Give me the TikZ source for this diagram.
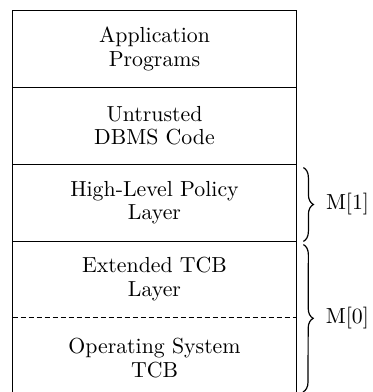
\documentclass[tikz,border=0pt]{standalone}
\usetikzlibrary{positioning, decorations.pathreplacing}
\tikzset{
  layer/.style={rectangle, minimum width=141.5pt, minimum height=38.5pt,
                inner sep=0pt, align=center,
                font=\fontsize{10.9}{11.8}\selectfont},
  frame/.style={line width=0.7pt},
  sepline/.style={line width=0.7pt},
  level/.style={decorate, decoration={brace, amplitude=5pt}, line width=0.6pt},
  levellabel/.style={anchor=west, inner sep=0pt, xshift=11pt,
                     font=\fontsize{10.9}{11.8}\selectfont},
}
\begin{document}
\begin{tikzpicture}[x=0.5pt, y=-0.5pt]
  \useasboundingbox (0,0) rectangle (373,392);

  % the layers, top to bottom
  \node[layer, minimum height=38pt] (app)    at (154.5, 49)    {Application\\Programs};
  \node[layer]                      (dbms)   at (154.5, 125.5) {Untrusted\\DBMS Code};
  \node[layer]                      (policy) at (154.5, 202.5) {High-Level Policy\\Layer};
  \node[layer, minimum height=38pt] (ext)    at (154.5, 279)   {Extended TCB\\Layer};
  \node[layer, minimum height=41pt] (os)     at (154.5, 358)   {Operating System\\TCB};
  \coordinate (bot) at (303, 392);

  % outline, open at the bottom edge
  \draw[frame] (app.west |- bot) -- (app.north west) -- (app.north east) -- (app.east |- bot);
  \foreach \a in {app,dbms,policy}{\draw[sepline] (\a.south west) -- (\a.south east);}
  \draw[sepline, dash pattern=on 2.5pt off 1.5pt] (ext.south west) -- (ext.south east);

  % levels
  \draw[level] ([xshift=3.5pt,yshift=-2pt]policy.north east)
        -- node[levellabel] {M[1]} ([xshift=3.5pt]policy.south east);
  \draw[level] ([xshift=3.5pt,yshift=-2pt]ext.north east)
        -- node[levellabel] {M[0]} (bot);
\end{tikzpicture}
\end{document}
